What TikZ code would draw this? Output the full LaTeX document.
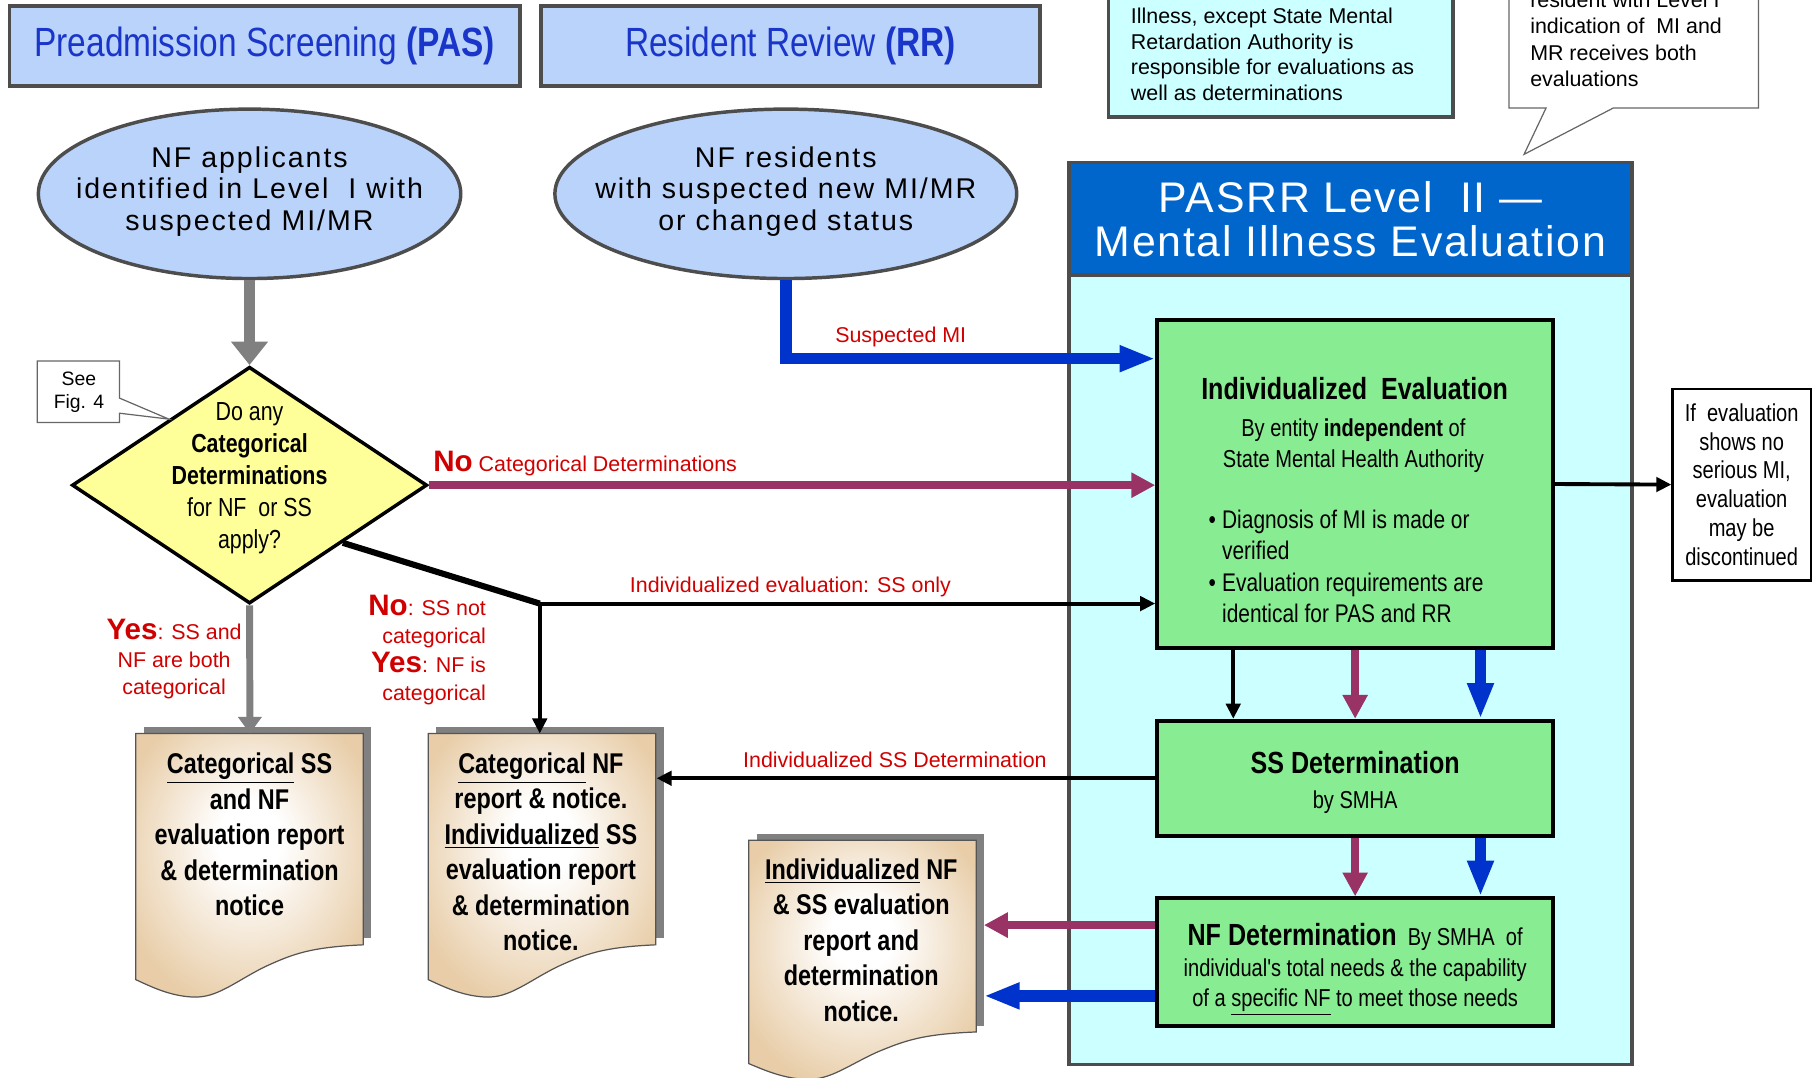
\documentclass[tikz,border=0pt]{standalone}
\usepackage{fontspec}
\setmainfont{Liberation Sans}
\newfontfamily\condfont[FakeStretch=0.82]{Liberation Sans}
\newfontfamily\widefont[LetterSpace=7]{Liberation Sans}
\newfontfamily\bandfont[LetterSpace=4]{Liberation Sans}
\usetikzlibrary{shapes.geometric,arrows.meta,calc}

\definecolor{hdrblue}{HTML}{BAD3FA}
\definecolor{hdrtext}{HTML}{1A35C9}
\definecolor{darkframe}{HTML}{4D4D4D}
\definecolor{calloutgray}{HTML}{666666}
\definecolor{panelblue}{HTML}{0066CC}
\definecolor{panelcyan}{HTML}{CCFFFF}
\definecolor{boxgreen}{HTML}{88EC92}
\definecolor{diayellow}{HTML}{FFFF99}
\definecolor{labelred}{HTML}{D00000}
\definecolor{arrmaroon}{HTML}{993366}
\definecolor{arrblue}{HTML}{0033CC}
\definecolor{arrgray}{HTML}{808080}
\definecolor{doctan}{HTML}{E8CDA8}
\definecolor{docedge}{HTML}{555555}
\pgfdeclareradialshading{docshade}{\pgfpoint{0bp}{6bp}}{color(0bp)=(white); color(7bp)=(white); color(30bp)=(doctan); color(50bp)=(doctan)}

\begin{document}
\begin{tikzpicture}[x=0.02cm, y=-0.02cm,
  hdr/.style={draw=darkframe, line width=1.7pt, fill=hdrblue, minimum height=1.38cm, text=hdrtext, font=\condfont\fontsize{20}{24}\selectfont},
  oval/.style={ellipse, draw=darkframe, line width=1.7pt, fill=hdrblue, minimum height=2.92cm, inner sep=0pt},
  ovaltext/.style={align=center, font=\widefont\fontsize{14}{15.6}\selectfont},
  greenbox/.style={draw=black, line width=2pt, fill=boxgreen, minimum width=6.82cm, align=center, font=\condfont\fontsize{12}{15.4}\selectfont},
  redlabel/.style={text=labelred, inner sep=0pt, font=\fontsize{10.5}{13.4}\selectfont},
  doctext/.style={align=center, font=\condfont\bfseries\fontsize{14}{17.4}\selectfont},
  docbox/.style={minimum width=3.92cm, minimum height=3.64cm, inner sep=0pt, anchor=north west},
  bluearr/.style={arrblue, line width=5.6pt, -{Triangle[length=17.5pt,width=12pt]}},
  maroonarr/.style={arrmaroon, line width=4pt, -{Triangle[length=11.7pt,width=11.7pt]}},
  blackarr/.style={black, line width=1.9pt, -{Triangle[length=7.4pt,width=7pt]}},
  grayarrtop/.style={arrgray, line width=5pt, -{Triangle[length=11.5pt,width=17.5pt]}},
  grayarrlow/.style={arrgray, line width=3.4pt, -{Triangle[length=8.2pt,width=11.3pt]}},
  docshape/.pic={
    \fill[arrgray] (7,-6) -- (203,-6) -- (203,176) -- (7,176) -- cycle;
    \shadedraw[shading=docshade, draw=docedge, line width=0.6pt] (0,0) -- (196,0) -- (196,182)
      .. controls (150,184) and (135,190) .. (111,201)
      .. controls (85,214) and (70,228) .. (49,227)
      .. controls (30,226) and (15,219) .. (0,212) -- cycle;
  }]
\useasboundingbox (0,0) rectangle (1568,928);

\node[hdr, minimum width=8.8cm] (pas) at (228,39.5) {Preadmission Screening \textbf{(PAS)}};
\node[hdr, minimum width=8.6cm] (rr) at (681,39.5) {Resident Review \textbf{(RR)}};

\node[draw=darkframe, line width=1.7pt, fill=panelcyan, minimum width=5.94cm, minimum height=2.62cm] (note) at (1103.5,35.5) {};
\node[anchor=west, align=left, inner sep=0pt, font=\fontsize{10.5}{12.5}\selectfont] (notetext) at (974,47)
  {Illness, except State Mental\\Retardation Authority is\\responsible for evaluations as\\well as determinations};

\draw[calloutgray, fill=white, line width=0.6pt] (1300,-20) -- (1300,93) -- (1332,93) -- (1313,133) -- (1390,93) -- (1515,93) -- (1515,-20) -- cycle;
\node[anchor=west, align=left, inner sep=0pt, font=\fontsize{10.5}{12.9}\selectfont] (callouttext) at (1318,34)
  {resident with Level I\\indication of\ \ MI and\\MR receives both\\evaluations};

\node[oval, minimum width=7.28cm] (appl) at (215,167) {};
\node[ovaltext] (appltext) at (215,165) {NF applicants\\identified in Level\ \ I with\\suspected MI/MR};
\node[oval, minimum width=7.96cm] (resid) at (677,167) {};
\node[ovaltext] (residtext) at (677,165) {NF residents\\with suspected new MI/MR\\or changed status};

\node[draw=darkframe, line width=1.7pt, fill=panelcyan, minimum width=9.7cm, minimum height=15.54cm] (panel) at (1163.5,528.5) {};
\node[draw=darkframe, line width=1.7pt, fill=panelblue, minimum width=9.7cm, minimum height=1.94cm, text=white, align=center,
  font=\bandfont\fontsize{21}{21.6}\selectfont] (band) at (1163.5,188.5) {PASRR Level\ \ II —\\Mental Illness Evaluation};

\node[greenbox, minimum height=5.64cm] (ie) at (1167.5,417) {};
\node[font=\condfont\bfseries\fontsize{15}{18}\selectfont] (ietitle) at (1167,335) {Individualized\ \ Evaluation};
\node[align=center, font=\condfont\fontsize{12}{15.4}\selectfont] (iesub) at (1166,384) {By entity \textbf{independent} of\\State Mental Health Authority};
\node[anchor=west, align=left, inner sep=0pt, font=\condfont\fontsize{12.5}{15.5}\selectfont] (iebullets) at (1041,488)
  {\textbullet\hspace{3pt}Diagnosis of MI is made or\\\hphantom{\textbullet\hspace{3pt}}verified\\\textbullet\hspace{3pt}Evaluation requirements are\\\hphantom{\textbullet\hspace{3pt}}identical for PAS and RR};

\node[greenbox, minimum height=1.98cm, font=\condfont\fontsize{12}{17}\selectfont] (ssd) at (1167.5,670.5)
  {\rule{0pt}{15pt}\textbf{\fontsize{15}{17}\selectfont SS Determination}\\by SMHA};
\node[greenbox, minimum height=2.2cm, font=\condfont\fontsize{12}{14.8}\selectfont] (nfd) at (1167.5,829)
  {\rule{0pt}{18pt}\textbf{\fontsize{15}{17}\selectfont NF Determination}\ \ By SMHA\ \ of\\individual's total needs \& the capability\\of a \underline{specific NF} to meet those needs};

\node[draw=black, line width=1.2pt, fill=white, minimum width=2.38cm, minimum height=3.3cm, align=center,
  font=\condfont\fontsize{12}{14.1}\selectfont] (ifbox) at (1500.5,417.5) {If\ \ evaluation\\shows no\\serious MI,\\evaluation\\may be\\discontinued};

\node[diamond, draw=black, line width=1.7pt, fill=diayellow, minimum width=6.12cm, minimum height=4.08cm, inner sep=0pt] (decide) at (215,418) {};
\node[align=center, font=\condfont\fontsize{12.8}{15.6}\selectfont] (decidetext) at (215,412)
  {Do any\\\textbf{Categorical}\\\textbf{Determinations}\\for NF\ \ or SS\\apply?};

\coordinate (figtip) at ($(decide.west)!0.55!(decide.north)$);
\draw[calloutgray, fill=white, line width=0.6pt] (32,311) -- (103,311) -- (103,343) -- (figtip) -- (103,356) -- (103,364) -- (32,364) -- cycle;
\node[align=center, font=\fontsize{9.5}{11.4}\selectfont] (seefig) at (68,338) {See\\Fig. 4};

\node[docbox] (doc1) at (117,632) {};
\node[docbox] (doc2) at (369,632) {};
\node[docbox, minimum height=3.3cm] (doc3) at (645,724) {};
\pic at (doc1.north west) {docshape};
\pic at (doc2.north west) {docshape};
\pic[yscale=0.907] at (doc3.north west) {docshape};
\node[doctext] (doc1text) at (215,719) {\underline{Categorical} SS\\and NF\\evaluation report\\\& determination\\notice};
\node[doctext] (doc2text) at (466,734) {\underline{Categorical} NF\\report \& notice.\\\underline{Individualized} SS\\evaluation report\\\& determination\\notice.};
\node[doctext] (doc3text) at (742,810) {\underline{Individualized} NF\\\& SS evaluation\\report and\\determination\\notice.};

\draw[grayarrtop] (appl.south) -- (decide.north);
\draw[grayarrlow] (decide.south) -- (doc1.north);
\draw[bluearr] (resid.south) |- ($(ie.west)+(0,-108)$);
\draw[maroonarr] (decide.east) -- (decide.east -| ie.west);
\coordinate (fork) at (465,520);
\draw[black, line width=3pt] ($(decide.east)!0.48!(decide.south)$) -- (fork);
\draw[blackarr] (fork) -- (fork -| ie.west);
\draw[blackarr] (fork) -- (fork |- doc2.north);
\draw[blackarr] (ie.east) -- (ifbox.west);
\draw[blackarr] ($(ie.south)+(-105,0)$) -- ($(ssd.north)+(-105,0)$);
\draw[maroonarr] (ie.south) -- (ssd.north);
\draw[bluearr] ($(ie.south)+(108,0)$) -- ($(ssd.north)+(108,0)$);
\draw[maroonarr] (ssd.south) -- (nfd.north);
\draw[bluearr] ($(ssd.south)+(108,0)$) -- ($(nfd.north)+(108,0)$);
\draw[blackarr] (ssd.west) -- (ssd.west -| doc2.east);
\coordinate (nfdup) at ($(nfd.west)+(0,-32)$);
\coordinate (nfdlow) at ($(nfd.west)+(0,29)$);
\coordinate (doc3edge) at ($(doc3.east)+(6,0)$);
\draw[maroonarr] (nfdup) -- (nfdup -| doc3edge);
\draw[bluearr] (nfdlow) -- (nfdlow -| doc3edge);

\node[redlabel, anchor=west] (nolabel) at (373,399) {\textbf{\fontsize{14.5}{16}\selectfont No} Categorical Determinations};
\node[redlabel] (sslabel) at (681,506) {Individualized evaluation: SS only};
\node[redlabel] (milabel) at (776,290) {Suspected MI};
\node[redlabel] (ssdlabel) at (771,655) {Individualized SS Determination};
\node[redlabel, align=center] (yeslabel) at (150,568) {\textbf{\fontsize{14.5}{16}\selectfont Yes}: SS and\\NF are both\\categorical};
\node[redlabel, align=right, anchor=east, font=\fontsize{10.5}{14}\selectfont] (mixlabel) at (419,560)
  {\textbf{\fontsize{14.5}{16}\selectfont No}: SS not\\categorical\\\textbf{\fontsize{14.5}{16}\selectfont Yes}: NF is\\categorical};
\end{tikzpicture}
\end{document}
